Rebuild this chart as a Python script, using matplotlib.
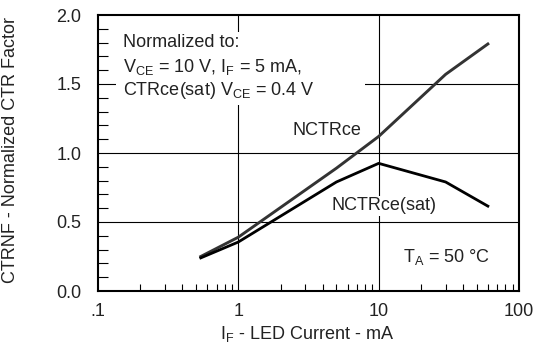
import numpy as np
import matplotlib
matplotlib.use("Agg")
import matplotlib.pyplot as plt
from matplotlib.patches import Rectangle
from matplotlib.ticker import FixedLocator, NullFormatter

# ── Data ──────────────────────────────────────────────────────────────────────
IF_MA      = [0.54, 1.0, 5.0, 10.0, 30.0, 60.0]
NCTRCE     = [0.25, 0.39, 0.89, 1.12, 1.57, 1.79]
NCTRCE_SAT = [0.24, 0.355, 0.79, 0.925, 0.79, 0.615]

X_TICKS  = [0.1, 1, 10, 100]
X_LABELS = [".1", "1", "10", "100"]
Y_TICKS  = [0.0, 0.5, 1.0, 1.5, 2.0]
Y_LABELS = ["0.0", "0.5", "1.0", "1.5", "2.0"]

plt.rcParams["font.family"] = ["Liberation Sans", "DejaVu Sans"]
plt.rcParams["mathtext.fontset"] = "custom"
plt.rcParams["mathtext.rm"] = "Liberation Sans"
plt.rcParams["mathtext.it"] = "Liberation Sans:italic"

FS = 13
TXT = "#222222"

fig = plt.figure(figsize=(5.37, 3.46), dpi=100)
ax = fig.add_axes([98 / 537, 1 - 291 / 346, 421 / 537, 276 / 346])

ax.set_xscale("log")
ax.set_xlim(0.1, 100)
ax.set_ylim(0, 2.0)

# grid lines (drawn by hand so text boxes can hide them)
for yv in [0.5, 1.0, 1.5]:
    ax.axhline(yv, color="k", lw=0.8, zorder=1)
for xv in [1, 10]:
    ax.axvline(xv, color="k", lw=0.8, zorder=1)

ax.plot(IF_MA, NCTRCE, color="#333333", lw=2.1, zorder=3)
ax.plot(IF_MA, NCTRCE_SAT, color="black", lw=2.0, zorder=3)

# white box behind the "Normalized to" note
ax.add_patch(Rectangle((0.134, 1.35), 7.95 - 0.134, 1.88 - 1.35,
                       facecolor="white", edgecolor="none", zorder=1.5))
ax.text(0.150, 1.768, "Normalized to:", fontsize=FS, color=TXT, va="baseline", zorder=4)
ax.text(0.150, 1.587, r"$\mathrm{V_{CE}}$ = 10 V, $\mathrm{I_F}$ = 5 mA,",
        fontsize=FS, color=TXT, va="baseline", zorder=4)
ax.text(0.150, 1.42, r"CTRce(sat) $\mathrm{V_{CE}}$ = 0.4 V",
        fontsize=FS, color=TXT, va="baseline", zorder=4)

ax.text(2.42, 1.13, "NCTRce", fontsize=FS, color=TXT, va="baseline", zorder=4)
ax.text(4.64, 0.585, "NCTRce(sat)", fontsize=FS, color=TXT, va="baseline", zorder=4,
        bbox=dict(facecolor="white", edgecolor="none", pad=1.0))
ax.text(15.0, 0.21, r"$\mathrm{T_A}$ = 50 °C", fontsize=FS, color=TXT, va="baseline", zorder=4)

# ticks
ax.xaxis.set_major_locator(FixedLocator(X_TICKS))
ax.set_xticklabels(X_LABELS)
minor_x = [m * 10.0 ** e for e in (-1, 0, 1) for m in range(2, 10)]
ax.xaxis.set_minor_locator(FixedLocator(minor_x))
ax.xaxis.set_minor_formatter(NullFormatter())
ax.set_yticks(Y_TICKS)
ax.set_yticklabels(Y_LABELS)
ax.yaxis.set_minor_locator(FixedLocator(np.arange(0.1, 2.0, 0.1)))

ax.tick_params(axis="both", which="major", length=0, labelsize=FS, labelcolor=TXT)
ax.tick_params(axis="x", which="major", pad=9)
ax.tick_params(axis="y", which="major", pad=12)
ax.tick_params(axis="x", which="minor", direction="in", length=5, width=0.8,
               bottom=True, top=False)
ax.tick_params(axis="y", which="minor", direction="in", length=7, width=0.8,
               left=True, right=False)

for sp in ax.spines.values():
    sp.set_linewidth(1.5)

ax.set_xlabel(r"$\mathrm{I_F}$ - LED Current - mA", fontsize=FS, color=TXT)
ax.xaxis.set_label_coords(0.498, -0.12)
ax.set_ylabel("CTRNF - Normalized CTR Factor", fontsize=FS, color=TXT)
ax.yaxis.set_label_coords(-0.188, 0.51)

fig.savefig("out.png", dpi=100)
